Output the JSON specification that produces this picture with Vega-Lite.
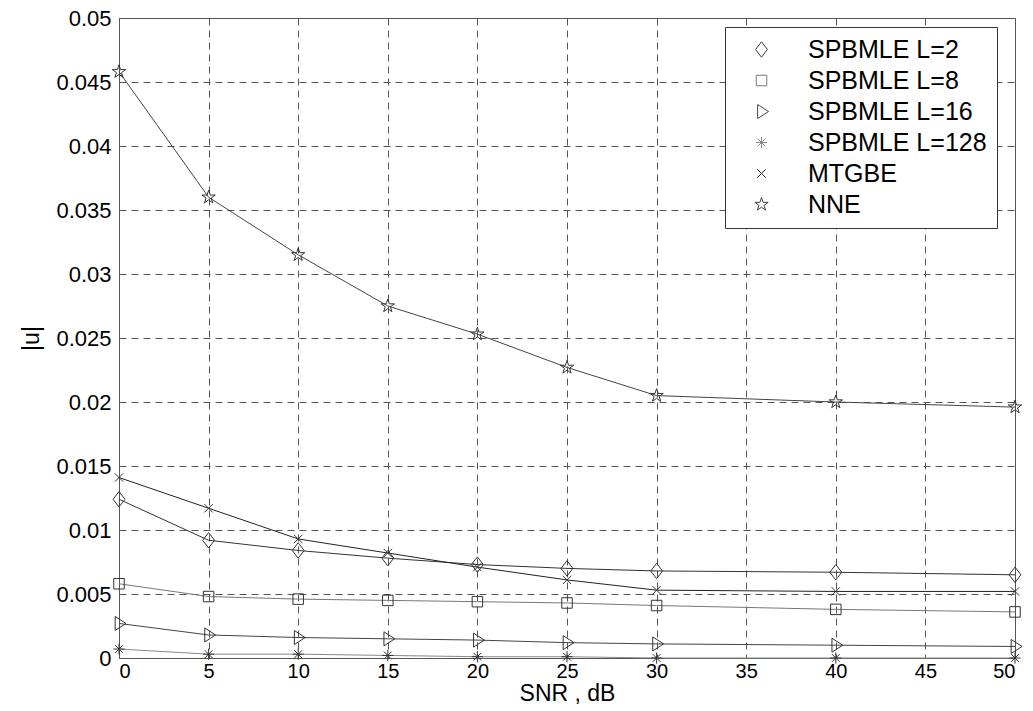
{
  "$schema": "https://vega.github.io/schema/vega-lite/v6.json",
  "width": 896,
  "height": 640,
  "autosize": {"type": "none"},
  "padding": {"left": 119, "top": 18, "right": 18, "bottom": 53},
  "background": "white",
  "config": {
    "font": "Liberation Sans",
    "view": {"stroke": "#555555", "strokeWidth": 1},
    "axis": {
      "labelFont": "Liberation Sans",
      "labelFontSize": 22,
      "labelColor": "black",
      "titleFont": "Liberation Sans",
      "titleFontSize": 23,
      "titleFontWeight": "normal",
      "titleColor": "black",
      "grid": true,
      "gridColor": "#555555",
      "gridDash": [7, 5],
      "gridWidth": 1,
      "gridOpacity": 1,
      "domainColor": "#555555",
      "ticks": false
    },
    "legend": {
      "orient": "none",
      "legendX": 606,
      "legendY": 9,
      "padding": 10,
      "fillColor": "white",
      "strokeColor": "#333333",
      "labelFont": "Liberation Sans",
      "labelFontSize": 25,
      "labelColor": "black",
      "labelLimit": 0,
      "symbolSize": 196,
      "symbolOffset": 14,
      "labelOffset": 34,
      "rowPadding": 5,
      "symbolStrokeWidth": 1,
      "symbolFillColor": "transparent"
    }
  },
  "data": {
    "values": [
      {"snr": 0, "u": 0.0124, "series": "SPBMLE L=2"},
      {"snr": 5, "u": 0.0092, "series": "SPBMLE L=2"},
      {"snr": 10, "u": 0.0084, "series": "SPBMLE L=2"},
      {"snr": 15, "u": 0.0078, "series": "SPBMLE L=2"},
      {"snr": 20, "u": 0.0073, "series": "SPBMLE L=2"},
      {"snr": 25, "u": 0.0070, "series": "SPBMLE L=2"},
      {"snr": 30, "u": 0.0068, "series": "SPBMLE L=2"},
      {"snr": 40, "u": 0.0067, "series": "SPBMLE L=2"},
      {"snr": 50, "u": 0.0065, "series": "SPBMLE L=2"},
      {"snr": 0, "u": 0.0058, "series": "SPBMLE L=8"},
      {"snr": 5, "u": 0.0048, "series": "SPBMLE L=8"},
      {"snr": 10, "u": 0.0046, "series": "SPBMLE L=8"},
      {"snr": 15, "u": 0.0045, "series": "SPBMLE L=8"},
      {"snr": 20, "u": 0.0044, "series": "SPBMLE L=8"},
      {"snr": 25, "u": 0.0043, "series": "SPBMLE L=8"},
      {"snr": 30, "u": 0.0041, "series": "SPBMLE L=8"},
      {"snr": 40, "u": 0.0038, "series": "SPBMLE L=8"},
      {"snr": 50, "u": 0.0036, "series": "SPBMLE L=8"},
      {"snr": 0, "u": 0.0027, "series": "SPBMLE L=16"},
      {"snr": 5, "u": 0.0018, "series": "SPBMLE L=16"},
      {"snr": 10, "u": 0.0016, "series": "SPBMLE L=16"},
      {"snr": 15, "u": 0.0015, "series": "SPBMLE L=16"},
      {"snr": 20, "u": 0.0014, "series": "SPBMLE L=16"},
      {"snr": 25, "u": 0.0012, "series": "SPBMLE L=16"},
      {"snr": 30, "u": 0.0011, "series": "SPBMLE L=16"},
      {"snr": 40, "u": 0.0010, "series": "SPBMLE L=16"},
      {"snr": 50, "u": 0.0009, "series": "SPBMLE L=16"},
      {"snr": 0, "u": 0.0007, "series": "SPBMLE L=128"},
      {"snr": 5, "u": 0.0003, "series": "SPBMLE L=128"},
      {"snr": 10, "u": 0.0003, "series": "SPBMLE L=128"},
      {"snr": 15, "u": 0.0002, "series": "SPBMLE L=128"},
      {"snr": 20, "u": 0.0001, "series": "SPBMLE L=128"},
      {"snr": 25, "u": 0.0001, "series": "SPBMLE L=128"},
      {"snr": 30, "u": 0.0000, "series": "SPBMLE L=128"},
      {"snr": 40, "u": 0.0000, "series": "SPBMLE L=128"},
      {"snr": 50, "u": 0.0000, "series": "SPBMLE L=128"},
      {"snr": 0, "u": 0.0141, "series": "MTGBE"},
      {"snr": 5, "u": 0.0117, "series": "MTGBE"},
      {"snr": 10, "u": 0.0093, "series": "MTGBE"},
      {"snr": 15, "u": 0.0082, "series": "MTGBE"},
      {"snr": 20, "u": 0.0071, "series": "MTGBE"},
      {"snr": 25, "u": 0.0061, "series": "MTGBE"},
      {"snr": 30, "u": 0.0053, "series": "MTGBE"},
      {"snr": 40, "u": 0.0052, "series": "MTGBE"},
      {"snr": 50, "u": 0.0052, "series": "MTGBE"},
      {"snr": 0, "u": 0.0458, "series": "NNE"},
      {"snr": 5, "u": 0.0360, "series": "NNE"},
      {"snr": 10, "u": 0.0315, "series": "NNE"},
      {"snr": 15, "u": 0.0275, "series": "NNE"},
      {"snr": 20, "u": 0.0253, "series": "NNE"},
      {"snr": 25, "u": 0.0227, "series": "NNE"},
      {"snr": 30, "u": 0.0205, "series": "NNE"},
      {"snr": 40, "u": 0.0200, "series": "NNE"},
      {"snr": 50, "u": 0.0196, "series": "NNE"}
    ]
  },
  "encoding": {
    "x": {
      "field": "snr",
      "type": "quantitative",
      "scale": {"domain": [0, 50], "nice": false, "zero": false},
      "axis": {"values": [0, 5, 10, 15, 20, 25, 30, 35, 40, 45, 50], "title": "SNR , dB", "labelFontSize": 20, "labelPadding": 3, "titleBaseline": "alphabetic", "titleY": 42}
    },
    "y": {
      "field": "u",
      "type": "quantitative",
      "scale": {"domain": [0, 0.05], "nice": false},
      "axis": {"values": [0, 0.005, 0.01, 0.015, 0.02, 0.025, 0.03, 0.035, 0.04, 0.045, 0.05], "format": "~g", "title": "|u|", "labelPadding": 8, "titlePadding": 12}
    }
  },
  "layer": [
    {
      "mark": {"type": "line", "strokeWidth": 1},
      "encoding": {
        "color": {
          "field": "series",
          "type": "nominal",
          "title": null,
          "scale": {
            "domain": ["SPBMLE L=2", "SPBMLE L=8", "SPBMLE L=16", "SPBMLE L=128", "MTGBE", "NNE"],
            "range": ["#333333", "#777777", "#444444", "#888888", "#222222", "#444444"]
          }
        }
      }
    },
    {
      "mark": {"type": "point", "filled": false, "strokeWidth": 1, "size": 196, "opacity": 1, "color": "#333333"},
      "encoding": {
        "shape": {
          "field": "series",
          "type": "nominal",
          "title": null,
          "scale": {
            "domain": ["SPBMLE L=2", "SPBMLE L=8", "SPBMLE L=16", "SPBMLE L=128", "MTGBE", "NNE"],
            "range": [
              "M-0.85,0L0,-1.1L0.85,0L0,1.1Z",
              "M-0.75,-0.75L0.75,-0.75L0.75,0.75L-0.75,0.75Z",
              "M-0.55,-1L1,0L-0.55,1Z",
              "M0,-0.8L0,0.8M-0.8,0L0.8,0M-0.55,-0.55L0.55,0.55M-0.55,0.55L0.55,-0.55",
              "M-0.6,-0.6L0.6,0.6M-0.6,0.6L0.6,-0.6",
              "M0,-1L0.223,-0.307L0.951,-0.309L0.362,0.117L0.588,0.809L0,0.38L-0.588,0.809L-0.362,0.117L-0.951,-0.309L-0.223,-0.307Z"
            ]
          }
        }
      }
    }
  ]
}
